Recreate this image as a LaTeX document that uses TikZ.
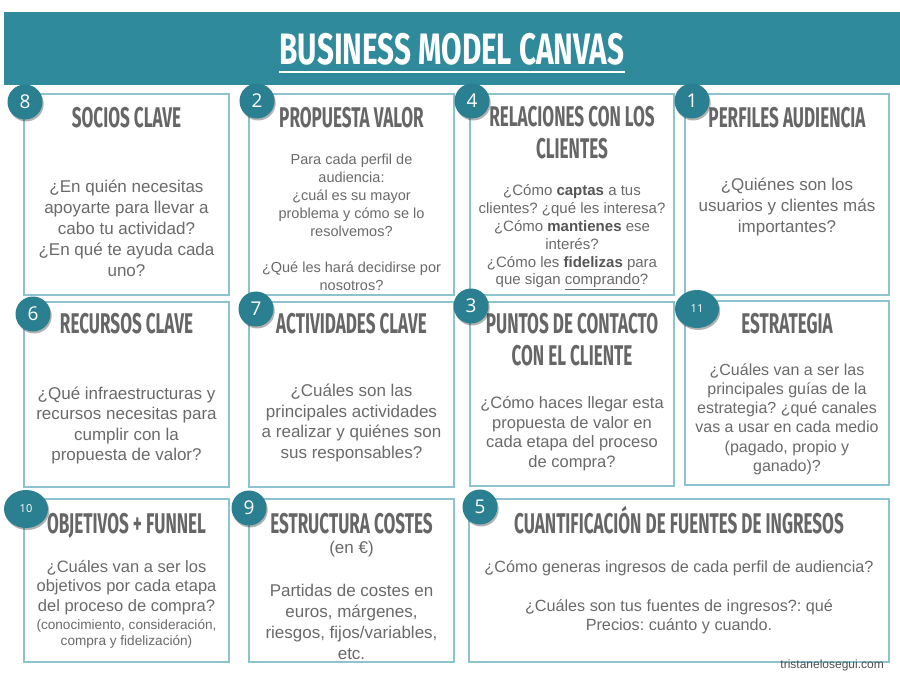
\documentclass[tikz,border=0pt]{standalone}
\usepackage{fontspec}
\setmainfont{Liberation Sans}
\newfontfamily\headfont[FakeStretch=0.6]{Fira Sans}
\newfontfamily\titlefont[FakeStretch=0.675]{Fira Sans}
\newfontfamily\numfont{Open Sans}
\usetikzlibrary{shapes.geometric,shadows,fit}
\definecolor{band}{HTML}{2F8B9C}
\definecolor{circ}{HTML}{2A8090}
\definecolor{cellborder}{HTML}{8CC3CE}
\definecolor{txt}{HTML}{6A6A6A}
\definecolor{boldtxt}{HTML}{555555}
\definecolor{headtxt}{HTML}{666666}
\definecolor{wmarktxt}{HTML}{4F4F4F}
\frenchspacing
\begin{document}
\begin{tikzpicture}[x=1pt,y=-1pt,
  cell/.style={draw=cellborder, line width=1.5pt, inner sep=0pt, rectangle},
  heading/.style={text=headtxt, align=center, inner sep=0pt,
    font=\headfont\bfseries\fontsize{28.5}{32}\selectfont},
  body/.style={text=txt, align=center, inner sep=0pt},
  badgeshadow/.style={drop shadow={shadow xshift=1.2pt, shadow yshift=-2pt, opacity=0.3, fill=black}},
  badge/.style={circle, fill=circ, text=white, minimum size=35pt, inner sep=0pt,
    font=\numfont\fontsize{19}{19}\selectfont, badgeshadow},
  badgeoval/.style={ellipse, fill=circ, text=white, minimum width=44pt, minimum height=38pt,
    inner sep=0pt, font=\numfont\fontsize{11}{11}\selectfont, badgeshadow}
]
\useasboundingbox (0,0) rectangle (900,677);
\fill[white] (0,0) rectangle (900,677);

% header band
\fill[band] (4,12) rectangle (900,85);
\node[text=white, inner sep=0pt, anchor=base,
  font=\titlefont\bfseries\fontsize{44}{44}\selectfont] (title) at (452,65) {BUSINESS MODEL CANVAS};
\path (title.base west) ++(0,7) coordinate (ul1);
\path (title.base east) ++(0,7) coordinate (ul2);
\draw[white, line width=2.5pt] (ul1) -- (ul2);

% cells
\node[cell, fit={(24,94) (229,295)}] (sc) {};
\node[cell, fit={(249,94) (454,295)}] (pv) {};
\node[cell, fit={(470,94) (674,295)}] (rc) {};
\node[cell, fit={(685,94) (889,295)}] (pa) {};
\node[cell, fit={(24,302) (229,487)}] (rk) {};
\node[cell, fit={(249,302) (454,487)}] (ak) {};
\node[cell, fit={(470,302) (674,486)}] (pc) {};
\node[cell, fit={(685,301) (889,485)}] (es) {};
\node[cell, fit={(24,499) (229,662)}] (of) {};
\node[cell, fit={(249,499) (454,662)}] (ec) {};
\node[cell, fit={(469,499) (889,662)}] (cf) {};

% headings
\node[heading, anchor=base] (sc-h) at (126.5,127.5) {SOCIOS CLAVE};
\node[heading, anchor=base] (pv-h) at (351.5,127.5) {PROPUESTA VALOR};
\node[heading] (rc-h) at (572,133) {RELACIONES CON LOS\\CLIENTES};
\node[heading, anchor=base] (pa-h) at (787,127.5) {PERFILES AUDIENCIA};
\node[heading, anchor=base] (rk-h) at (126.5,333) {RECURSOS CLAVE};
\node[heading, anchor=base] (ak-h) at (351.5,333) {ACTIVIDADES CLAVE};
\node[heading] (pc-h) at (572,340) {PUNTOS DE CONTACTO\\CON EL CLIENTE};
\node[heading, anchor=base] (es-h) at (787,333) {ESTRATEGIA};
\node[heading, anchor=base] (of-h) at (126.5,533) {OBJETIVOS + FUNNEL};
\node[heading, anchor=base] (ec-h) at (351.5,533) {ESTRUCTURA COSTES};
\node[heading, anchor=base] (cf-h) at (679,533) {CUANTIFICACIÓN DE FUENTES DE INGRESOS};

% bodies
\node[body, font=\fontsize{17}{21}\selectfont] (sc-t) at (126.5,228)
  {¿En quién necesitas\\apoyarte para llevar a\\cabo tu actividad?\\¿En qué te ayuda cada\\uno?};
\node[body, font=\fontsize{14.5}{18}\selectfont] (pv-t) at (351.5,222.5)
  {Para cada perfil de\\audiencia:\\¿cuál es su mayor\\problema y cómo se lo\\resolvemos?\\[18pt]¿Qué les hará decidirse por\\nosotros?};
\node[body, font=\fontsize{15}{17.8}\selectfont] (rc-t) at (572,237.5)
  {¿Cómo \textbf{\color{boldtxt}captas} a tus\\clientes? ¿qué les interesa?\\¿Cómo \textbf{\color{boldtxt}mantienes} ese\\interés?\\¿Cómo les \textbf{\color{boldtxt}fidelizas} para\\que sigan \underline{comprando}?};
\node[body, font=\fontsize{17}{21}\selectfont] (pa-t) at (787,207)
  {¿Quiénes son los\\usuarios y clientes más\\importantes?};
\node[body, font=\fontsize{17}{20.3}\selectfont] (rk-t) at (126.5,425.5)
  {¿Qué infraestructuras y\\recursos necesitas para\\cumplir con la\\propuesta de valor?};
\node[body, font=\fontsize{17}{20.7}\selectfont] (ak-t) at (351.5,423)
  {¿Cuáles son las\\principales actividades\\a realizar y quiénes son\\sus responsables?};
\node[body, font=\fontsize{16.5}{19.7}\selectfont] (pc-t) at (572,433.5)
  {¿Cómo haces llegar esta\\propuesta de valor en\\cada etapa del proceso\\de compra?};
\node[body, font=\fontsize{16}{19.2}\selectfont] (es-t) at (787,419)
  {¿Cuáles van a ser las\\principales guías de la\\estrategia? ¿qué canales\\vas a usar en cada medio\\(pagado, propio y\\ganado)?};
\node[body, font=\fontsize{16.5}{19.5}\selectfont] (of-t) at (126.5,587.5)
  {¿Cuáles van a ser los\\objetivos por cada etapa\\del proceso de compra?};
\node[body, font=\fontsize{13.6}{16.5}\selectfont] (of-s) at (126.5,634)
  {(conocimiento, consideración,\\compra y fidelización)};
\node[body, font=\fontsize{17}{21}\selectfont] (ec-e) at (351.5,549) {(en €)};
\node[body, font=\fontsize{17}{21}\selectfont] (ec-t) at (351.5,621.5)
  {Partidas de costes en\\euros, márgenes,\\riesgos, fijos/variables,\\etc.};
\node[body, font=\fontsize{16.2}{21}\selectfont] (cf-t1) at (679,568)
  {¿Cómo generas ingresos de cada perfil de audiencia?};
\node[body, font=\fontsize{16.2}{19}\selectfont] (cf-t2) at (679,616.5)
  {¿Cuáles son tus fuentes de ingresos?: qué\\Precios: cuánto y cuando.};

% badges
\node[badge] (b8) at (25,102) {8};
\node[badge] (b2) at (257,101) {2};
\node[badge] (b4) at (472,101) {4};
\node[badge] (b1) at (692,101) {1};
\node[badge] (b6) at (33,314) {6};
\node[badge] (b7) at (256,309) {7};
\node[badge] (b3) at (471,306) {3};
\node[badgeoval] (b11) at (697,309) {11};
\node[badgeoval] (b10) at (26,509) {10};
\node[badge] (b9) at (249,508) {9};
\node[badge] (b5) at (480,507) {5};

% watermark
\node[text=wmarktxt, anchor=east, inner sep=0pt, font=\fontsize{12}{12}\selectfont] (wm) at (884,665) {tristanelosegui.com};
\end{tikzpicture}
\end{document}
